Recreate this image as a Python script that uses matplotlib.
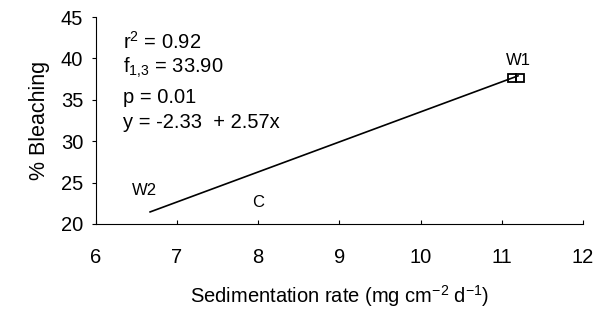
import numpy as np
import matplotlib.pyplot as plt

plt.rcParams['font.family'] = ['Liberation Sans', 'DejaVu Sans']
plt.rcParams['mathtext.fontset'] = 'custom'
plt.rcParams['mathtext.rm'] = 'Liberation Sans'
plt.rcParams['mathtext.it'] = 'Liberation Sans'

# data
site_x = [11.13, 11.22]
site_y = [37.6, 37.6]
fit_x = [6.67, 11.2]
fit_y = [21.45, 37.9]
labels = ['W1', 'W2', 'C']
label_x = [11.2, 6.6, 8.0]
label_y = [39.7, 24.0, 22.6]
stats = [r'r$^2$ = 0.92', r'f$_{1{,}3}$ = 33.90', 'p = 0.01', 'y = -2.33  + 2.57x']

fig = plt.figure(figsize=(5.98, 3.11), dpi=100)
ax = fig.add_axes([0.16, 0.28, 0.815, 0.665])

ax.plot(fit_x, fit_y, color='black', lw=1.2)
ax.plot(site_x, site_y, 's', mfc='none', mec='black', ms=5.5, mew=1.3)
for lab, x, y in zip(labels, label_x, label_y):
    ax.text(x, y, lab, fontsize=12, ha='center', va='center')

ys = [42.0, 38.9, 35.3, 32.3]
for s, y in zip(stats, ys):
    ax.text(6.34, y, s, fontsize=14.5, va='center')

ax.set_xlim(6, 12)
ax.set_ylim(20, 45)
ax.set_xticks(range(6, 13))
ax.set_yticks(range(20, 46, 5))
ax.tick_params(labelsize=14.5, length=3)
ax.tick_params(axis='x', direction='in', pad=17)
ax.tick_params(axis='y', pad=6)
ax.spines['top'].set_visible(False)
ax.spines['right'].set_visible(False)
ax.set_xlabel('Sedimentation rate (mg cm$^{-2}$ d$^{-1}$)', fontsize=14.5, labelpad=12)
ax.set_ylabel('% Bleaching', fontsize=15.5, labelpad=8)

fig.savefig('out.png', dpi=100)
